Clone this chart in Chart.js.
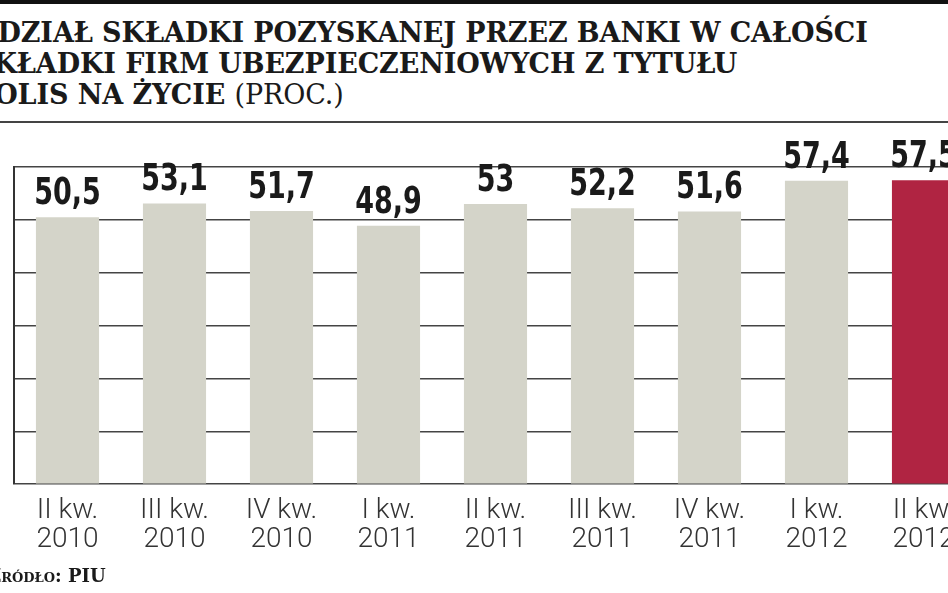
<!DOCTYPE html>
<html>
<head>
<meta charset="utf-8">
<script src="https://cdn.jsdelivr.net/npm/chart.js@4"></script>
<style>
  html, body { margin: 0; padding: 0; width: 948px; height: 593px; overflow: hidden; background: #fff; }
  #topbar { position: absolute; left: 0; top: 0; width: 948px; height: 4px; background: #111; }
  #title { position: absolute; left: -26px; top: 17px; font-family: "DejaVu Serif", serif; font-weight: bold;
           font-size: 27px; line-height: 31px; color: #1a1a1a; white-space: nowrap; letter-spacing: -0.1px; }
  #title .unit { font-weight: normal; }
  #rule { position: absolute; left: 0; top: 121px; width: 948px; height: 2px; background: #444; }
  #wrap { position: absolute; left: 0; top: 0; width: 992px; height: 593px; }
  #source { position: absolute; left: -12px; top: 565px; font-family: "DejaVu Serif", serif; font-weight: bold;
            font-size: 18px; color: #1a1a1a; font-variant: small-caps; }
</style>
</head>
<body>
<div id="topbar"></div>
<div id="title">UDZIAŁ SKŁADKI POZYSKANEJ PRZEZ BANKI W CAŁOŚCI<br>SKŁADKI FIRM UBEZPIECZENIOWYCH Z TYTUŁU<br>POLIS NA ŻYCIE <span class="unit">(PROC.)</span></div>
<div id="rule"></div>
<div id="wrap"><canvas id="chart"></canvas></div>
<div id="source">Źródło: PIU</div>
<script>
const categories = [["II kw.", "2010"], ["III kw.", "2010"], ["IV kw.", "2010"], ["I kw.", "2011"], ["II kw.", "2011"],
                    ["III kw.", "2011"], ["IV kw.", "2011"], ["I kw.", "2012"], ["II kw.", "2012"]];
const shares = [50.5, 53.1, 51.7, 48.9, 53, 52.2, 51.6, 57.4, 57.5];
const barColors = ["#d4d4c9", "#d4d4c9", "#d4d4c9", "#d4d4c9", "#d4d4c9", "#d4d4c9", "#d4d4c9", "#d4d4c9", "#b02442"];

// value labels over the bars, polish decimal comma, stretched a bit to look condensed
const valueLabels = {
  id: "valueLabels",
  afterDatasetsDraw(chart) {
    const ctx = chart.ctx;
    chart.getDatasetMeta(0).data.forEach((bar, i) => {
      ctx.save();
      ctx.translate(bar.x, bar.y - 13);
      ctx.scale(1, 1.25);
      ctx.font = "bold 30px 'DejaVu Sans Condensed', 'DejaVu Sans', sans-serif";
      ctx.fillStyle = "#1a1a1a";
      ctx.textAlign = "center";
      ctx.textBaseline = "alphabetic";
      ctx.fillText(String(shares[i]).replace(".", ","), 0, 0);
      ctx.restore();
    });
  }
};

new Chart("chart", {
  type: "bar",
  data: {
    labels: categories,
    datasets: [{
      data: shares,
      backgroundColor: barColors,
      barPercentage: 0.59,
      categoryPercentage: 1
    }]
  },
  options: {
    responsive: true,
    maintainAspectRatio: false,
    animation: false,
    layout: { padding: { top: 167, left: 14, right: 15, bottom: 26 } },
    plugins: {
      legend: { display: false },
      title: { display: false },
      tooltip: { enabled: false }
    },
    scales: {
      x: {
        grid: { display: false, drawTicks: false },
        border: { display: false },
        ticks: {
          padding: 12,
          color: "#333",
          font: { family: "Roboto", size: 28, weight: 300, lineHeight: 1.05 }
        }
      },
      y: {
        min: 0,
        max: 60,
        ticks: { display: false, stepSize: 10 },
        grid: { color: "#444", lineWidth: 1.5, drawTicks: false },
        border: { display: true, color: "#333", width: 2 }
      }
    }
  },
  plugins: [valueLabels]
});
</script>
</body>
</html>
